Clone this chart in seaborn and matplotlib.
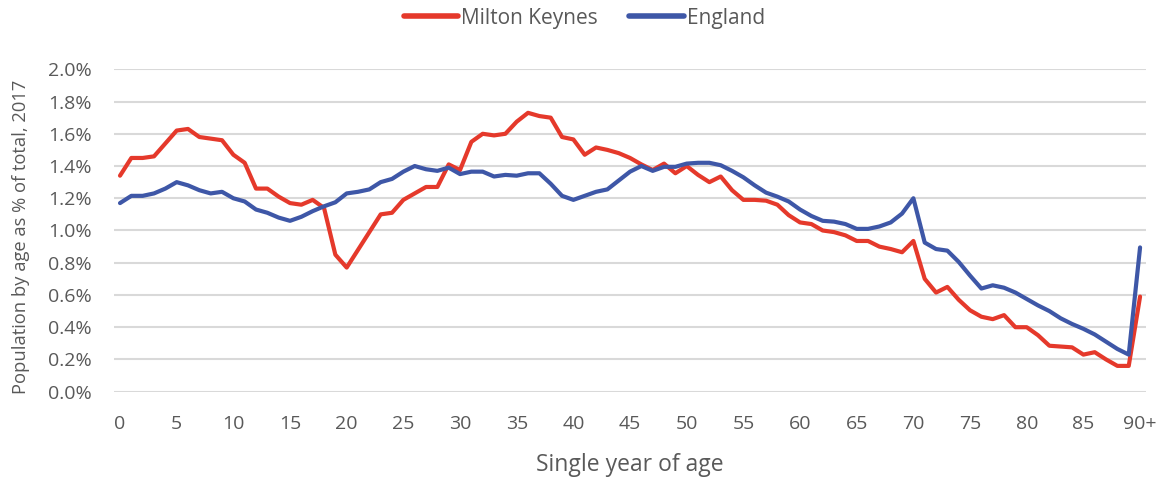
import numpy as np
import pandas as pd
import matplotlib
matplotlib.use("Agg")
import matplotlib.pyplot as plt
import seaborn as sns
from matplotlib.ticker import FuncFormatter

# Share of population at each single year of age, 2017 (percent of total)
ages = list(range(91))
milton_keynes = [
    1.34, 1.45, 1.45, 1.46, 1.54, 1.62, 1.63, 1.58, 1.57, 1.56,
    1.47, 1.42, 1.26, 1.26, 1.21, 1.17, 1.16, 1.19, 1.14, 0.85,
    0.77, 0.88, 0.99, 1.10, 1.11, 1.19, 1.23, 1.27, 1.27, 1.41,
    1.375, 1.55, 1.60, 1.59, 1.60, 1.675, 1.73, 1.71, 1.70, 1.58,
    1.565, 1.47, 1.515, 1.50, 1.48, 1.45, 1.41, 1.375, 1.415, 1.355,
    1.40, 1.345, 1.30, 1.335, 1.25, 1.19, 1.19, 1.185, 1.16, 1.095,
    1.05, 1.04, 1.00, 0.99, 0.97, 0.935, 0.935, 0.90, 0.885, 0.865,
    0.935, 0.70, 0.615, 0.65, 0.57, 0.505, 0.465, 0.45, 0.475, 0.40,
    0.40, 0.35, 0.285, 0.28, 0.275, 0.23, 0.245, 0.20, 0.16, 0.16,
    0.59,
]
england = [
    1.17, 1.215, 1.215, 1.23, 1.26, 1.30, 1.28, 1.25, 1.23, 1.24,
    1.20, 1.18, 1.13, 1.11, 1.08, 1.06, 1.085, 1.12, 1.15, 1.175,
    1.23, 1.24, 1.255, 1.30, 1.32, 1.365, 1.40, 1.38, 1.37, 1.39,
    1.35, 1.365, 1.365, 1.335, 1.345, 1.34, 1.355, 1.355, 1.29, 1.215,
    1.19, 1.215, 1.24, 1.255, 1.31, 1.365, 1.40, 1.37, 1.395, 1.395,
    1.415, 1.42, 1.42, 1.405, 1.37, 1.33, 1.28, 1.235, 1.21, 1.18,
    1.13, 1.09, 1.06, 1.055, 1.04, 1.01, 1.01, 1.025, 1.05, 1.105,
    1.20, 0.925, 0.885, 0.875, 0.805, 0.72, 0.64, 0.66, 0.645, 0.615,
    0.575, 0.535, 0.50, 0.455, 0.42, 0.39, 0.355, 0.31, 0.265, 0.23,
    0.895,
]
series_names = ["Milton Keynes", "England"]
series_colors = ["#E5392B", "#3E57A7"]
tick_ages = list(range(0, 91, 5))
tick_labels = [str(a) for a in tick_ages[:-1]] + ["90+"]

df = pd.DataFrame({
    "age": ages * 2,
    "share": [v / 100 for v in milton_keynes + england],
    "area": [series_names[0]] * len(ages) + [series_names[1]] * len(ages),
})

sns.set_theme(style="white")
plt.rcParams["font.family"] = ["Open Sans", "DejaVu Sans"]
text_color = "#595959"

fig = plt.figure(figsize=(11.62, 4.8), dpi=100)
ax = fig.add_axes([0.0984, 0.184, 0.8876, 0.6716])

sns.lineplot(
    data=df, x="age", y="share", hue="area",
    palette=dict(zip(series_names, series_colors)),
    linewidth=3.0, ax=ax, legend=True,
)

ax.set_xlim(-0.5, 90.5)
ax.set_ylim(0, 0.02)
ax.set_yticks(np.arange(0, 0.0201, 0.002))
ax.yaxis.set_major_formatter(FuncFormatter(lambda v, _: f"{v * 100:.1f}%"))
ax.set_xticks(tick_ages)
ax.set_xticklabels(tick_labels)

ax.grid(axis="y", color="#D9D9D9", linewidth=1.5)
ax.grid(axis="x", visible=False)
ax.set_axisbelow(True)
for s in ax.spines.values():
    s.set_visible(False)
ax.tick_params(axis="both", length=0, labelsize=14, colors=text_color)
ax.tick_params(axis="x", pad=17)
ax.tick_params(axis="y", pad=16)

ax.set_xlabel("Single year of age", fontsize=16.5, color=text_color, labelpad=14)
ax.set_ylabel("Population by age as % of total, 2017", fontsize=13.2,
              color=text_color)
ax.yaxis.set_label_coords(-0.082, 0.48)

# Legend centred across the whole figure, above the plot area
handles, labels = ax.get_legend_handles_labels()
ax.get_legend().remove()
leg = fig.legend(
    handles, labels, loc="center", bbox_to_anchor=(0.503, 0.962), ncol=2,
    frameon=False, fontsize=15, handlelength=2.6, handletextpad=0.15,
    columnspacing=1.5,
)
for t in leg.get_texts():
    t.set_color(text_color)
for h in leg.get_lines():
    h.set_linewidth(4)

fig.savefig("out.png", dpi=100)
